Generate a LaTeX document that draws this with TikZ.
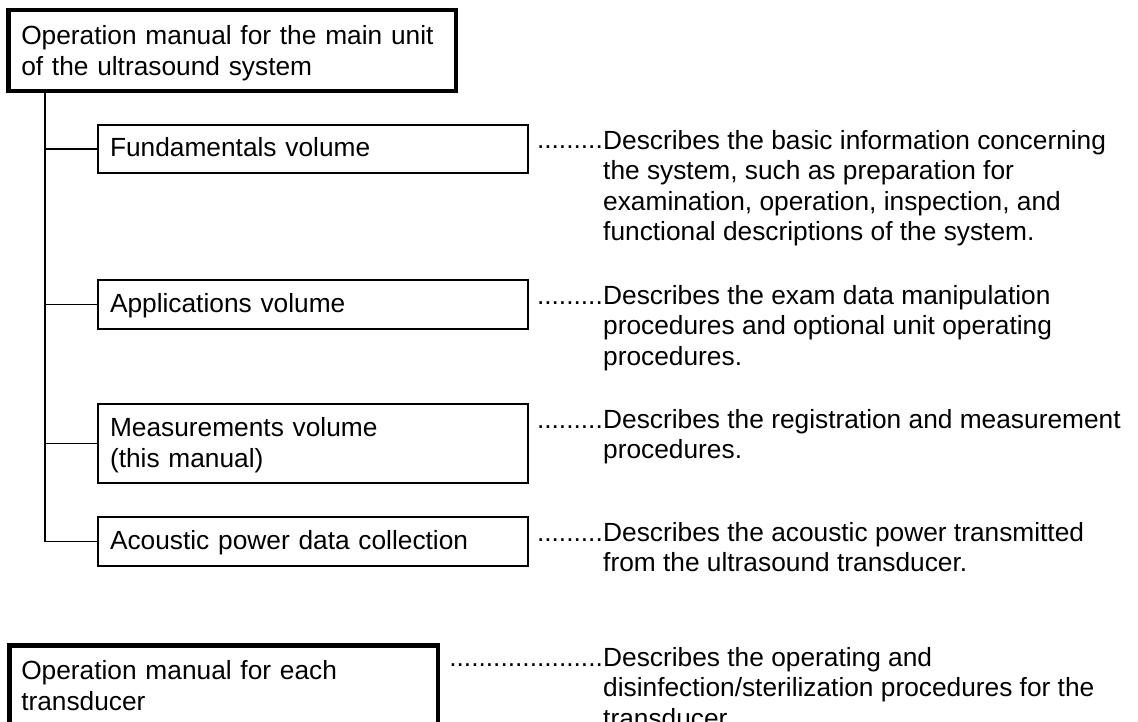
\documentclass[tikz,border=0pt]{standalone}
\usepackage{fontspec}
\setmainfont{Liberation Sans}
\newcommand{\fsz}{\fontsize{26.3pt}{30.5pt}\selectfont}
\newcommand{\fl}{\rule{0pt}{19pt}}
\tikzset{
  bigbox/.style={draw, line width=4.5pt, rectangle, align=left, inner xsep=13pt, font=\fsz},
  volbox/.style={draw, line width=1.8pt, rectangle, minimum width=430pt, text width=406pt,
                 inner xsep=12pt, align=left, font=\fsz},
  oneline/.style={text height=18.8pt, text depth=3pt, minimum height=#1},
  desc/.style={anchor=north west, inner sep=0pt, align=left, font=\fsz},
  leader/.style={anchor=base east, inner sep=0pt, font=\fsz},
  conn/.style={line width=1.8pt}
}
\begin{document}
\begin{tikzpicture}[x=1pt, y=-1pt]
\useasboundingbox (0,0) rectangle (1138,722);
\clip (0,0) rectangle (1138,722);
\fill[white] (0,0) rectangle (1138,722);

% main unit box
\node[bigbox, text width=421.5pt, inner ysep=10.5pt] (top) at (232,50.5)
  {\rule{0pt}{24.5pt}Operation manual for the main unit\\of the ultrasound system};

% volume boxes
\node[volbox, oneline=48pt] (fund) at (313,149) {Fundamentals volume};
\node[volbox, oneline=49pt] (appl) at (313,304.5) {Applications volume};
\node[volbox, minimum height=79pt] (meas) at (313,443.5)
  {\rule{0pt}{22.8pt}Measurements volume\\(this manual)};
\node[volbox, oneline=49pt] (acou) at (313,541.5) {Acoustic power data collection};

% transducer box (runs past the bottom edge)
\node[bigbox, text width=404.5pt, inner xsep=12pt, inner ysep=15pt, anchor=north] (trans) at (223.5,643.25)
  {Operation manual for each\\transducer\rule[-40pt]{0pt}{40pt}};

% tree connectors
\coordinate (tx) at (45,0);
\draw[conn] (top.south -| tx) |- (acou.west);
\draw[conn] (fund.west -| tx) -- (fund.west);
\draw[conn] (appl.west -| tx) -- (appl.west);
\draw[conn] (meas.west -| tx) -- (meas.west);

% descriptions
\node[desc] (dfund) at (603,130) {\fl Describes the basic information concerning\\the system, such as preparation for\\examination, operation, inspection, and\\functional descriptions of the system.};
\node[desc] (dappl) at (603,285) {\fl Describes the exam data manipulation\\procedures and optional unit operating\\procedures.};
\node[desc] (dmeas) at (603,409) {\fl Describes the registration and measurement\\procedures.};
\node[desc] (dacou) at (603,522) {\fl Describes the acoustic power transmitted\\from the ultrasound transducer.};
\node[desc] (dtrans) at (603,647) {\fl Describes the operating and\\disinfection/sterilization procedures for the\\transducer.};

% dotted leaders
\node[leader] (lfund) at ([yshift=-19pt]dfund.north west) {.........};
\node[leader] (lappl) at ([yshift=-19pt]dappl.north west) {.........};
\node[leader] (lmeas) at ([yshift=-19pt]dmeas.north west) {.........};
\node[leader] (lacou) at ([yshift=-19pt]dacou.north west) {.........};
\node[leader] (ltrans) at ([yshift=-19pt]dtrans.north west) {.....................};
\end{tikzpicture}
\end{document}
